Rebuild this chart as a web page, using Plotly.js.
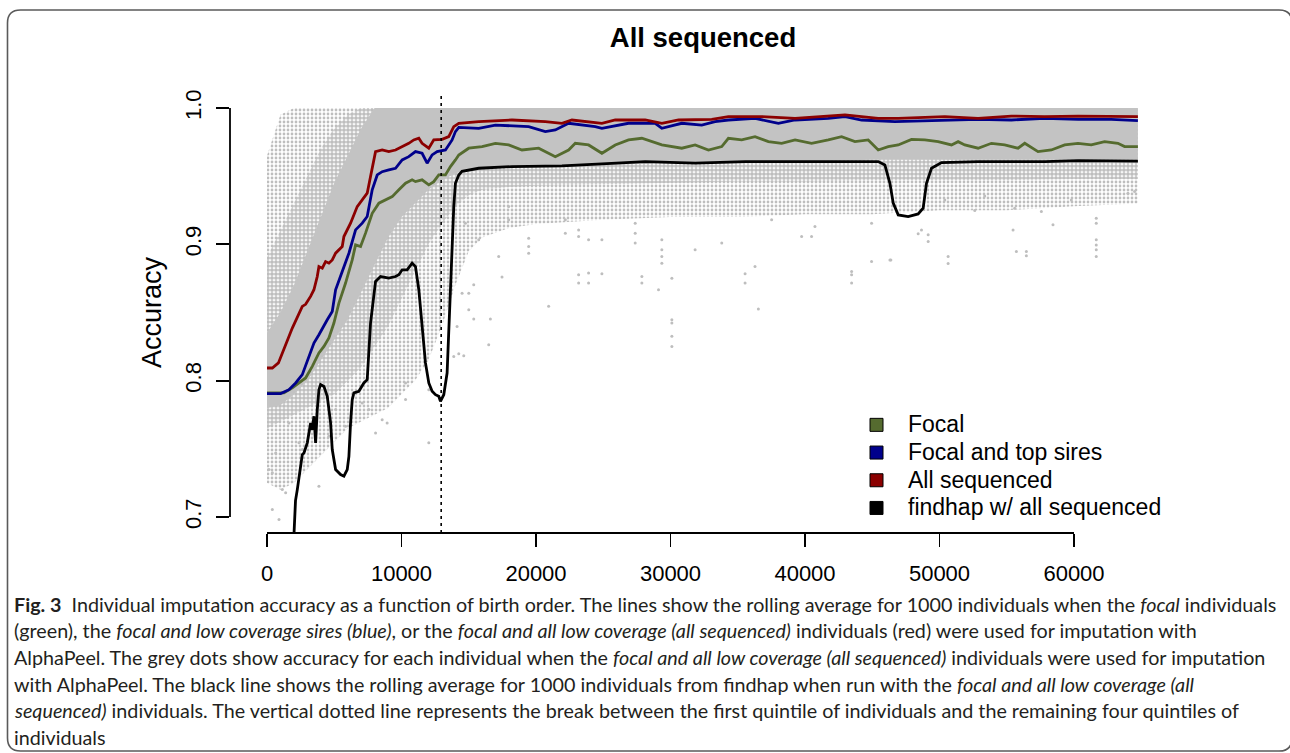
<!DOCTYPE html>
<html>
<head>
<meta charset="utf-8">
<script src="https://cdn.plot.ly/plotly-3.0.1.min.js"></script>
<style>html,body{margin:0;padding:0;background:#ffffff;} #chart{width:1290px;height:753px;}</style>
</head>
<body>
<div id="chart"></div>
<script>
// ---------------- data ----------------
const xTickVals = [0, 10000, 20000, 30000, 40000, 50000, 60000];
const xTickText = ['0', '10000', '20000', '30000', '40000', '50000', '60000'];
const yTickVals = [0.7, 0.8, 0.9, 1.0];
const yTickText = ['0.7', '0.8', '0.9', '1.0'];
const quintileBreak = 12950;

const seriesNames = ['Focal', 'Focal and top sires', 'All sequenced', 'findhap w/ all sequenced'];
const seriesColors = ['#556B2F', '#00008B', '#8B0000', '#000000'];

const focalX = [0,1262,1881,2376,2871,3366,3861,4233,4604,4975,5346,5842,6337,6586,6956,7327,7822,8318,8814,9310,9805,10300,10790,11040,11530,12030,12400,12772,13267,13640,14010,14257,15000,15990,16980,17970,18958,20197,21436,22425,22920,23910,24900,25892,26880,27870,29356,30840,31830,32820,33810,34306,35295,36285,37276,38265,39260,40490,41732,42720,43713,44702,45444,46187,46930,47920,48910,49900,50890,51385,51880,52870,53860,54850,55840,56337,57325,58315,59306,60297,61284,62277,63266,63763,64752];
const focalY = [0.791,0.791,0.7947,0.7983,0.802,0.8105,0.8203,0.8251,0.8313,0.8423,0.8569,0.8716,0.8886,0.8996,0.8984,0.9082,0.9228,0.9302,0.9326,0.935,0.94,0.9448,0.9473,0.946,0.9473,0.9436,0.946,0.9509,0.9509,0.957,0.9619,0.9655,0.9705,0.9717,0.9741,0.9729,0.9692,0.9705,0.9643,0.9692,0.9741,0.9729,0.9668,0.9729,0.9766,0.9778,0.9729,0.9705,0.9729,0.9692,0.9717,0.9778,0.9766,0.979,0.9753,0.9741,0.9766,0.9741,0.9766,0.979,0.9753,0.9766,0.9692,0.9717,0.9729,0.977,0.9766,0.9753,0.9729,0.9753,0.9729,0.9705,0.9741,0.9729,0.9705,0.9741,0.968,0.9692,0.9729,0.9741,0.9729,0.9753,0.9741,0.9717,0.9717];

const topSiresX = [0,1015,1634,2129,2624,3119,3490,3861,4110,4480,4851,5100,5594,6090,6586,7080,7450,7822,8194,8562,9059,9556,10050,10540,11040,11530,11906,12277,12648,13267,13762,14010,14257,15742,16980,19454,20692,21436,22425,24405,24900,26880,28862,29356,30840,32325,33315,34306,36285,38018,39260,41732,42972,44210,46684,49157,52870,55344,57820,60297,62770,64752];
const topSiresY = [0.7905,0.7905,0.7934,0.7983,0.8044,0.8178,0.8276,0.8337,0.8386,0.8447,0.8508,0.8667,0.8801,0.8935,0.9106,0.9155,0.9204,0.94,0.9509,0.9533,0.9546,0.9558,0.9619,0.9643,0.968,0.9668,0.9595,0.9656,0.968,0.9692,0.9766,0.9827,0.9858,0.9851,0.9875,0.9863,0.9827,0.9839,0.9888,0.9863,0.9851,0.9888,0.9888,0.9851,0.9888,0.9875,0.99,0.9912,0.9924,0.9888,0.9912,0.9924,0.9937,0.9912,0.99,0.9907,0.9917,0.9912,0.9924,0.9917,0.9917,0.9907];

const allSeqX = [0,396,850,1139,1881,2624,2871,3240,3490,3737,3861,4110,4357,4604,4851,5100,5594,5718,6213,6707,7080,7450,7698,8070,8562,9059,9556,10050,10540,10910,11287,11530,12030,12400,13020,13514,13886,14257,15742,18217,20692,21930,22672,24900,25892,28120,29356,30594,33070,34306,36780,39260,42972,45444,46930,50394,52870,55344,57820,60297,62770,64752];
const allSeqY = [0.8093,0.8093,0.813,0.8203,0.8386,0.8545,0.856,0.8618,0.8667,0.8764,0.8837,0.8825,0.8874,0.8862,0.8886,0.8935,0.8984,0.9057,0.9155,0.9277,0.9326,0.9375,0.9497,0.968,0.9692,0.968,0.9692,0.9717,0.9741,0.9766,0.9778,0.9741,0.9705,0.9766,0.977,0.979,0.9863,0.9888,0.99,0.9912,0.99,0.9888,0.9912,0.9888,0.9912,0.9912,0.9888,0.9912,0.9917,0.9937,0.9937,0.9924,0.9949,0.9924,0.9924,0.9937,0.9924,0.9941,0.9937,0.9941,0.9937,0.9937];

const findhapX = [1950,2005,2120,2253,2500,2624,2747,2995,3243,3366,3490,3614,3737,3861,3985,4233,4480,4728,4851,5100,5470,5718,5965,6090,6213,6337,6460,6830,7203,7450,7698,8070,8442,9059,9556,9802,10050,10420,10790,11040,11287,11530,11782,12030,12277,12525,12772,12896,13143,13390,13640,13762,13886,14010,14257,14500,15742,18217,21930,24900,28120,31830,35570,39260,41732,45444,45940,46313,46560,46930,47672,48414,48785,49033,49405,50147,52870,57820,60297,64752];
const findhapY = [0.675,0.691,0.712,0.7201,0.7397,0.7458,0.747,0.7544,0.769,0.7641,0.7739,0.7544,0.7788,0.7934,0.7971,0.7958,0.7885,0.769,0.7495,0.7348,0.7311,0.7299,0.7348,0.7445,0.769,0.7861,0.791,0.7922,0.7983,0.8007,0.8423,0.8728,0.8764,0.8752,0.8764,0.8777,0.8813,0.8813,0.8862,0.8837,0.8667,0.8423,0.813,0.7983,0.7922,0.7897,0.7885,0.7848,0.7897,0.8056,0.8667,0.9,0.9277,0.9448,0.9509,0.9535,0.9558,0.957,0.9575,0.959,0.9607,0.9595,0.9607,0.9607,0.9607,0.9607,0.9582,0.9448,0.9302,0.9216,0.9204,0.9223,0.9265,0.9448,0.9558,0.96,0.9607,0.9607,0.9614,0.961];

// grey per-individual accuracies: envelopes of the point cloud (sparse / medium / solid density)
const cloudX = [0,1000,2000,3000,4000,5000,6000,7000,8000,9000,10000,11000,12000,13000,14000,15000,16000,18000,20000,25000,30000,35000,40000,45000,50000,55000,60000,64750];
const sparseTop = [0.965,0.995,1.0,1.0,1.0,1.0,1.0,1.0,1.0,1.0,1.0,1.0,1.0,1.0,1.0,1.0,1.0,1.0,1.0,1.0,1.0,1.0,1.0,1.0,1.0,1.0,1.0,1.0];
const sparseBot = [0.725,0.72,0.725,0.735,0.745,0.755,0.765,0.77,0.775,0.78,0.79,0.80,0.815,0.84,0.87,0.895,0.905,0.912,0.915,0.918,0.92,0.92,0.922,0.922,0.925,0.925,0.928,0.93];
const midTop = [0.89,0.91,0.93,0.95,0.97,0.985,0.995,1.0,1.0,1.0,1.0,1.0,1.0,1.0,1.0,1.0,1.0,1.0,1.0,1.0,1.0,1.0,1.0,1.0,1.0,1.0,1.0,1.0];
const midBot = [0.765,0.77,0.775,0.78,0.785,0.79,0.80,0.81,0.825,0.84,0.86,0.88,0.90,0.915,0.928,0.936,0.94,0.942,0.943,0.944,0.945,0.946,0.946,0.947,0.947,0.947,0.948,0.948];
const solidTop = [0.835,0.85,0.87,0.895,0.92,0.945,0.965,0.985,1.0,1.0,1.0,1.0,1.0,1.0,1.0,1.0,1.0,1.0,1.0,1.0,1.0,1.0,1.0,1.0,1.0,1.0,1.0,1.0];
const solidBot = [0.78,0.782,0.79,0.80,0.815,0.83,0.845,0.865,0.885,0.905,0.92,0.93,0.94,0.947,0.952,0.955,0.956,0.957,0.958,0.958,0.96,0.961,0.961,0.962,0.962,0.962,0.962,0.962];
const outlierX = [150,396,1139,1387,3861,8071,12030,12030,8562,8933,396,891,7080,7574,10300,10300,644,2376,2624,4604,5842,1634,5100,
  23168,23168,23910,23910,24900,30100,29108,20940,36533,30100,30100,30100,30100,16485,15371,16610,15000,13886,14257,14628,14133,14504,15000,15371,17474,35546,35546,
  46384,50642,50642,48414,49157,49157,55716,56458,56458,55468,58438,61656,61656,61656,61656,61656,61656,57573,55592,52623,59800,64010,64505,53366,50394,
  43465,43465,43465,44950,46313,36285,40740,40490,27870,27870,23910,24900,19454,19454,19454,15742,17227,14752,29356,29356,29356,29356,31830,33810,39750,48660,23168,23168,22180,22180,27375,27375,27375,17970,17970,37520,44950];
const outlierY = [0.7348,0.7324,0.7201,0.7177,0.7226,0.7617,0.7544,0.7934,0.7714,0.769,0.7055,0.6982,0.7837,0.7788,0.7983,0.7861,0.747,0.7544,0.7495,0.7592,0.7665,0.769,0.7788,
  0.8777,0.8716,0.8789,0.8716,0.8784,0.8752,0.8667,0.8545,0.8525,0.8447,0.8423,0.8325,0.8251,0.8264,0.8452,0.8452,0.852,0.8178,0.8198,0.8183,0.8398,0.8642,0.8642,0.8703,0.876,0.8784,0.8716,
  0.8886,0.891,0.886,0.9077,0.907,0.902,0.8947,0.8947,0.8916,0.9106,0.9143,0.9192,0.9155,0.9033,0.8996,0.896,0.891,0.924,0.9265,0.9248,0.9326,0.9375,0.9387,0.9355,0.9326,
  0.8801,0.8777,0.8716,0.8874,0.8886,0.8837,0.913,0.9057,0.8764,0.8716,0.9033,0.9033,0.9045,0.8984,0.8935,0.9033,0.891,0.9155,0.9033,0.896,0.891,0.8862,0.896,0.9009,0.9057,0.9106,0.9106,0.9057,0.918,0.9082,0.9155,0.9082,0.9009,0.9277,0.918,0.918,0.9155];

const titleText = '<b>All sequenced</b>';
const yTitleText = 'Accuracy';
const captionLines = [
  '<b>Fig. 3</b>\u00a0\u00a0Individual imputation accuracy as a function of birth order. The lines show the rolling average for 1000 individuals when the <i>focal</i> individuals',
  '(green), the <i>focal and low coverage sires (blue)</i>, or the <i>focal and all low coverage (all sequenced)</i> individuals (red) were used for imputation with',
  'AlphaPeel. The grey dots show accuracy for each individual when the <i>focal and all low coverage (all sequenced)</i> individuals were used for imputation',
  'with AlphaPeel. The black line shows the rolling average for 1000 individuals from findhap when run with the <i>focal and all low coverage (all</i>',
  '<i>sequenced)</i> individuals. The vertical dotted line represents the break between the first quintile of individuals and the remaining four quintiles of',
  'individuals'
];

// ---------------- layout geometry (pixels) ----------------
const W = 1290, H = 753;
const plotL = 230, plotR = 1180, plotT = 92, plotB = 533;
const x0px = 267, pxPerUnit = 0.01345;
const y1px = 108, y07px = 517;
const pxPerY = (y07px - y1px) / 0.3;
const xRange = [(plotL - x0px) / pxPerUnit, (plotR - x0px) / pxPerUnit];
const yRange = [1 - (plotB - y1px) / pxPerY, 1 + (y1px - plotT) / pxPerY];
const pw = plotR - plotL, ph = plotB - plotT;
const PX = px => (px - plotL) / pw;
const PY = py => (plotB - py) / ph;

const axisFont = 'Liberation Sans, Arial, sans-serif';
const capFamily = '"Liberation Sans Narrow", "Lato", sans-serif';

function segs(html) {
  const out = []; const re = /<(\/?)(b|i)>/g; let b = false, it = false, last = 0, m;
  while ((m = re.exec(html))) {
    if (m.index > last) out.push({t: html.slice(last, m.index), b, it});
    if (m[2] === 'b') b = !m[1]; else it = !m[1];
    last = re.lastIndex;
  }
  if (last < html.length) out.push({t: html.slice(last), b, it});
  return out;
}
function textWidth(html, size, fam) {
  const c = document.createElement('canvas').getContext('2d'); let w = 0;
  for (const s of segs(html)) { c.font = (s.it ? 'italic ' : '') + (s.b ? 'bold ' : '') + size + 'px ' + fam; w += c.measureText(s.t).width; }
  return w;
}
const capSize = Math.min(21, 100 * 1266 / textWidth(captionLines[0], 100, capFamily));

// ---------------- traces ----------------
const traces = [];
function band(lo, hi, fillSpec) {
  traces.push({x: cloudX, y: lo, mode: 'lines', line: {width: 0, color: 'rgba(0,0,0,0)'}, hoverinfo: 'skip', showlegend: false});
  traces.push(Object.assign({x: cloudX, y: hi, mode: 'lines', line: {width: 0, color: 'rgba(0,0,0,0)'}, fill: 'tonexty',
    hoverinfo: 'skip', showlegend: false}, fillSpec));
}
band(sparseBot, sparseTop, {fillcolor: 'rgba(0,0,0,0)', fillpattern: {shape: '.', fgcolor: '#bebebe', bgcolor: 'rgba(255,255,255,0)', size: 4, solidity: 0.38}});
band(midBot, midTop, {fillcolor: 'rgba(0,0,0,0)', fillpattern: {shape: '.', fgcolor: '#bebebe', bgcolor: 'rgba(255,255,255,0)', size: 4, solidity: 0.68}});
band(solidBot, solidTop, {fillcolor: '#c3c3c3'});
traces.push({x: outlierX, y: outlierY, mode: 'markers', marker: {size: 3, color: '#bebebe'}, hoverinfo: 'skip', showlegend: false});

const lineX = [focalX, topSiresX, allSeqX, findhapX];
const lineY = [focalY, topSiresY, allSeqY, findhapY];
for (let k = 0; k < 4; k++) {
  traces.push({x: lineX[k], y: lineY[k], mode: 'lines', name: seriesNames[k],
    line: {color: seriesColors[k], width: 2.8}, showlegend: false});
}
for (let k = 0; k < 4; k++) {
  traces.push({x: [null], y: [null], mode: 'markers', name: '<span style="font-size:23px">' + seriesNames[k] + '</span>',
    marker: {symbol: 'square', size: 13, color: seriesColors[k], line: {color: '#000', width: 1}}, showlegend: true});
}

// ---------------- frame, axis lines, break line ----------------
const fl = 7.5, fr = 1292, ft = 10, fb = 751, r = 13;
const framePath = [
  'M', PX(fl), PY(fb - r), 'L', PX(fl), PY(ft + r), 'Q', PX(fl), PY(ft), PX(fl + r), PY(ft),
  'L', PX(fr - r), PY(ft), 'Q', PX(fr), PY(ft), PX(fr), PY(ft + r),
  'L', PX(fr), PY(fb - r), 'Q', PX(fr), PY(fb), PX(fr - r), PY(fb),
  'L', PX(fl + r), PY(fb), 'Q', PX(fl), PY(fb), PX(fl), PY(fb - r), 'Z'
].join(' ');

const shapes = [
  {type: 'path', xref: 'paper', yref: 'paper', path: framePath, line: {color: '#5a5a5a', width: 1.6}},
  {type: 'line', xref: 'x', yref: 'paper', x0: xTickVals[0], x1: xTickVals[xTickVals.length - 1], y0: 0, y1: 0, line: {color: '#000', width: 1.8}},
  {type: 'line', xref: 'paper', yref: 'y', x0: 0, x1: 0, y0: yTickVals[0], y1: yTickVals[yTickVals.length - 1], line: {color: '#000', width: 1.8}},
  {type: 'line', xref: 'x', yref: 'paper', x0: quintileBreak, x1: quintileBreak, y0: 0, y1: 1, line: {color: '#000', width: 1.6, dash: '3px,4px'}}
];

const annotations = captionLines.map((t, i) => ({
  text: t, xref: 'paper', yref: 'paper', x: PX(12), y: PY(604 + i * 26.7), xanchor: 'left', yanchor: 'middle',
  showarrow: false, align: 'left', font: {family: capFamily, size: capSize, color: '#231f20'}
}));

const layout = {
  width: W, height: H,
  margin: {l: plotL, r: W - plotR, t: plotT, b: H - plotB, pad: 0},
  paper_bgcolor: '#ffffff', plot_bgcolor: '#ffffff',
  title: {text: titleText, font: {family: axisFont, size: 27.5, color: '#000'}, xref: 'paper', x: PX(703), xanchor: 'center',
    yref: 'container', y: 1 - 37 / H, yanchor: 'middle'},
  xaxis: {range: xRange, showgrid: false, zeroline: false, showline: false, tickvals: xTickVals, ticktext: xTickText,
    ticks: 'outside', ticklen: 13, tickwidth: 1.8, tickcolor: '#000', ticklabelstandoff: 8,
    tickfont: {family: axisFont, size: 22, color: '#000'}, fixedrange: true},
  yaxis: {range: yRange, showgrid: false, zeroline: false, showline: false, tickvals: yTickVals, ticktext: yTickText,
    ticks: 'outside', ticklen: 13, tickwidth: 1.8, tickcolor: '#000', tickangle: -90, ticklabelstandoff: 6,
    tickfont: {family: axisFont, size: 22, color: '#000'},
    title: {text: yTitleText, font: {family: axisFont, size: 27, color: '#000'}, standoff: 11}, fixedrange: true},
  showlegend: true,
  legend: {x: PX(845), y: PY(406), xanchor: 'left', yanchor: 'top', bgcolor: 'rgba(0,0,0,0)', borderwidth: 0,
    font: {family: axisFont, size: 19, color: '#000'}, itemwidth: 53, tracegroupgap: 0, traceorder: 'normal'},
  shapes: shapes,
  annotations: annotations
};

Plotly.newPlot('chart', traces, layout, {displayModeBar: false, staticPlot: true});
</script>
</body>
</html>
